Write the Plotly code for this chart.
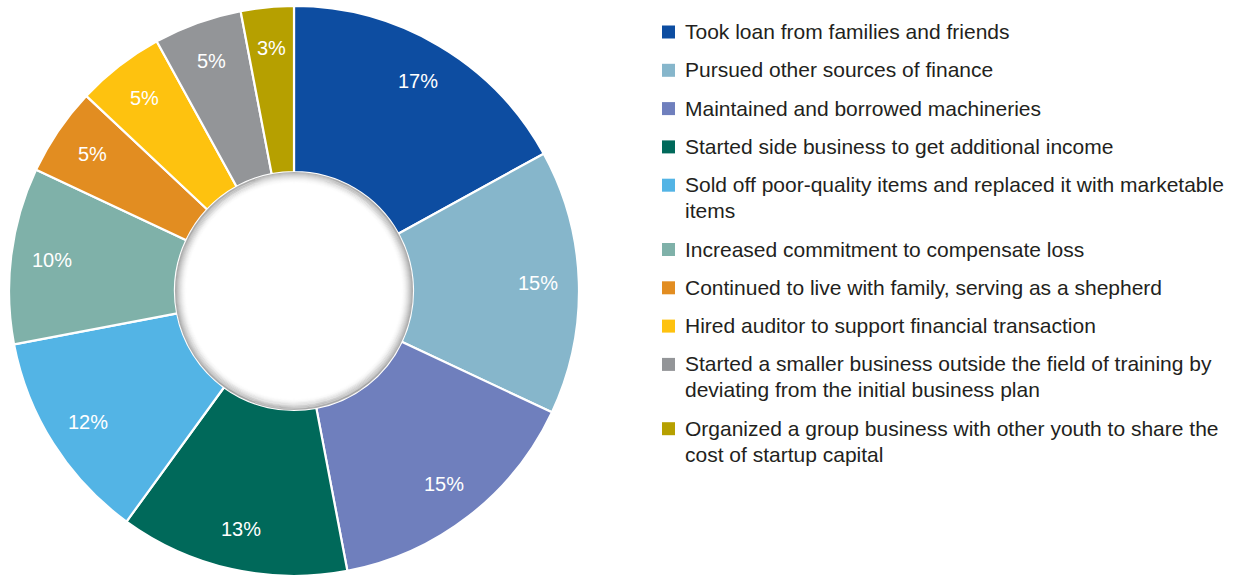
import math
import plotly.graph_objects as go

# Coping strategies and their shares (percent)
categories = [
    "Took loan from families and friends",
    "Pursued other sources of finance",
    "Maintained and borrowed machineries",
    "Started side business to get additional income",
    "Sold off poor-quality items and replaced it with marketable<br>items",
    "Increased commitment to compensate loss",
    "Continued to live with family, serving as a shepherd",
    "Hired auditor to support financial transaction",
    "Started a smaller business outside the field of training by<br>deviating from the initial business plan",
    "Organized a group business with other youth to share the<br>cost of startup capital",
]
shares = [17, 15, 15, 13, 12, 10, 5, 5, 5, 3]
colors = [
    "#0D4DA1", "#86B6CB", "#6F7FBD", "#00695A", "#53B4E5",
    "#7FB1A9", "#E28D21", "#FEC20F", "#939598", "#B6A000",
]

W, H = 1244, 576
FONT = "Liberation Sans, Arial, sans-serif"

# Pie box in pixels (left, top, right, bottom)
box = (9, 6, 579, 576)
cx = (box[0] + box[2]) / 2
cy = (box[1] + box[3]) / 2
r_out = (box[2] - box[0]) / 2
hole = 0.4175
r_hole = r_out * hole


def px(x):
    return x / W


def py(y):
    return 1 - y / H


fig = go.Figure()
fig.add_trace(go.Pie(
    labels=[c.replace("<br>", " ") for c in categories],
    values=shares,
    sort=False,
    direction="clockwise",
    rotation=0,
    hole=hole,
    marker=dict(colors=colors, line=dict(color="white", width=2.2)),
    textinfo="none",
    hoverinfo="label+percent",
    showlegend=False,
    domain=dict(x=[px(box[0]), px(box[2])], y=[py(box[3]), py(box[1])]),
))

shapes = []
annotations = []

# Soft inner shadow around the donut hole
steps = 12
for k in range(steps):
    rr = r_hole - 0.5 - k
    a = 0.30 * (1 - k / steps) ** 2
    shapes.append(dict(
        type="circle", xref="paper", yref="paper",
        x0=px(cx - rr), x1=px(cx + rr), y0=py(cy + rr), y1=py(cy - rr),
        line=dict(color=f"rgba(0,0,0,{a:.3f})", width=1.2),
        fillcolor="rgba(0,0,0,0)", layer="above",
    ))

# Percentage labels placed along each slice's mid-angle
total = sum(shares)
cum = 0
r_lab = 244
for v in shares:
    theta = 2 * math.pi * (cum + v / 2) / total
    cum += v
    lx = cx + r_lab * math.sin(theta)
    ly = cy - r_lab * math.cos(theta)
    annotations.append(dict(
        x=px(lx), y=py(ly), xref="paper", yref="paper",
        text=f"{v}%", showarrow=False, xanchor="center", yanchor="middle",
        font=dict(family=FONT, size=20, color="white"),
    ))

# Legend: colour square plus wrapped text
y0 = 31.5
item_gap = 38.3
line_gap = 26
y = y0
for name, col in zip(categories, colors):
    lines = name.split("<br>")
    shapes.append(dict(
        type="rect", xref="paper", yref="paper",
        x0=px(662), x1=px(675), y0=py(y + 7), y1=py(y - 6),
        fillcolor=col, line=dict(width=0),
    ))
    for j, ln in enumerate(lines):
        annotations.append(dict(
            x=px(683), y=py(y + j * line_gap), xref="paper", yref="paper",
            text=ln, showarrow=False, xanchor="left", yanchor="middle",
            font=dict(family=FONT, size=21, color="#231F20"),
        ))
    y += item_gap + (len(lines) - 1) * line_gap

fig.update_layout(
    width=W, height=H,
    margin=dict(l=0, r=0, t=0, b=0),
    paper_bgcolor="white", plot_bgcolor="white",
    shapes=shapes, annotations=annotations,
    font=dict(family=FONT),
)

fig.write_html("out.html")
